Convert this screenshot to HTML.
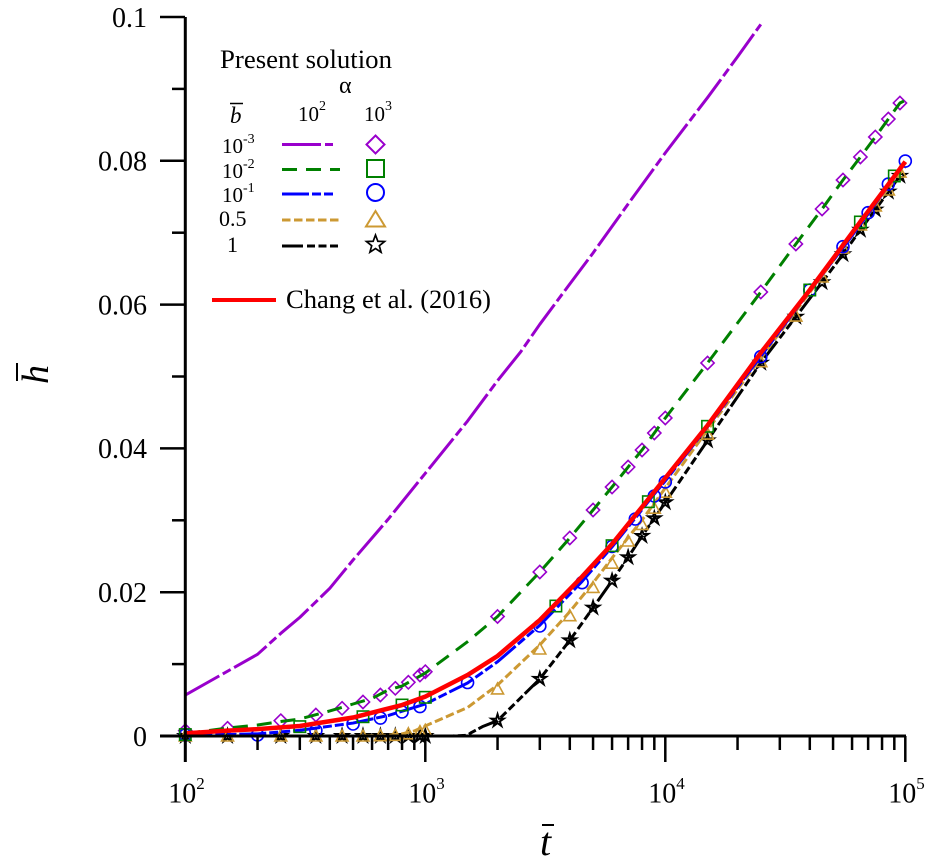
<!DOCTYPE html>
<html lang="en">
<head>
<meta charset="utf-8">
<title>h-bar versus t-bar chart</title>
<style>
html,body{margin:0;padding:0;background:#fff;}
svg{display:block;}
text{font-family:"Liberation Serif",serif;fill:#000;}
</style>
</head>
<body>
<svg id="chart" xmlns="http://www.w3.org/2000/svg" width="925" height="866" viewBox="0 0 925 866">
  <rect x="0" y="0" width="925" height="866" fill="#fff"/>
  <g id="series-layer"></g>
  <g id="axis-layer"></g>

  <text transform="translate(48,384) rotate(-90)" font-size="38" font-style="italic">h</text>
  <line x1="17" y1="363" x2="17" y2="381" stroke="#000" stroke-width="2"/>
  <text x="540" y="855" font-size="40" font-style="italic">t</text>
  <line x1="542" y1="825" x2="554" y2="825" stroke="#000" stroke-width="2"/>

  <g id="legend">
    <text x="220" y="68" font-size="26" textLength="172" lengthAdjust="spacingAndGlyphs">Present solution</text>
    <text x="339" y="93" font-size="24">α</text>
    <text x="230" y="123" font-size="23" font-style="italic">b</text>
    <line x1="230" y1="103.5" x2="243" y2="103.5" stroke="#000" stroke-width="1.5"/>
    <text x="298" y="121" font-size="21">10<tspan dy="-11" font-size="14">2</tspan></text>
    <text x="364" y="121" font-size="21">10<tspan dy="-11" font-size="14">3</tspan></text>

    <text x="222" y="153" font-size="21">10<tspan dy="-10" font-size="14">-3</tspan></text>
    <text x="222" y="178" font-size="21">10<tspan dy="-10" font-size="14">-2</tspan></text>
    <text x="222" y="202" font-size="21">10<tspan dy="-10" font-size="14">-1</tspan></text>
    <text x="219" y="226" font-size="22">0.5</text>
    <text x="227" y="252" font-size="22">1</text>

    <line x1="282" y1="144.5" x2="333" y2="144.5" stroke="#9900cc" stroke-width="3" stroke-dasharray="39 4 9 4"/>
    <line x1="282" y1="169.5" x2="340" y2="169.5" stroke="#008000" stroke-width="3" stroke-dasharray="15 9"/>
    <line x1="282" y1="194" x2="334" y2="194" stroke="#0000ff" stroke-width="3" stroke-dasharray="27 3 9 3 9 3"/>
    <line x1="282" y1="220" x2="340" y2="220" stroke="#cc9933" stroke-width="3" stroke-dasharray="8.5 3.5"/>
    <line x1="282" y1="246" x2="340" y2="246" stroke="#000" stroke-width="3" stroke-dasharray="21 4 8 3.5 8 3.5 8 3"/>

    <polygon points="375.5,135.5 384.5,144.5 375.5,153.5 366.5,144.5" fill="none" stroke="#9900cc" stroke-width="2"/>
    <rect x="367" y="160" width="17" height="17" fill="none" stroke="#008000" stroke-width="2"/>
    <circle cx="375.5" cy="192.5" r="8.5" fill="none" stroke="#0000ff" stroke-width="2"/>
    <polygon points="375.5,211 385,226.5 366,226.5" fill="none" stroke="#cc9933" stroke-width="2"/>
    <polygon id="legend-star" fill="none" stroke="#000" stroke-width="1.7"/>

    <line x1="212" y1="300" x2="276" y2="300" stroke="#ff0000" stroke-width="4"/>
    <text x="286" y="308" font-size="26" textLength="205" lengthAdjust="spacingAndGlyphs">Chang et al. (2016)</text>
  </g>
</svg>
<script>
// ---------- tick labels ----------
var xTickExponents = [2, 3, 4, 5];
var yMajorTicks = [0, 0.02, 0.04, 0.06, 0.08, 0.1];
var yMajorLabels = ['0', '0.02', '0.04', '0.06', '0.08', '0.1'];
var yMinorTicks = [0.01, 0.03, 0.05, 0.07, 0.09];
var xMinorMultipliers = [2, 3, 4, 5, 6, 7, 8, 9];

// ---------- alpha = 100 lines ----------
var lineTimesB0001 = [100, 200, 250, 300, 400, 500, 700, 1000, 1500, 2000, 2500, 3000, 4000, 5000, 7000, 10000, 15000, 20000, 25000];
var lineValuesB0001 = [0.0057, 0.01136, 0.01428, 0.0165, 0.02054, 0.02448, 0.03014, 0.03654, 0.04381, 0.04942, 0.05345, 0.05726, 0.06287, 0.06718, 0.074, 0.0811, 0.0888, 0.09447, 0.09898];

var lineTimesB001 = [100, 150, 200, 250, 300, 400, 500, 600, 700, 800, 1000, 1500, 2000, 3000, 4000, 5000, 6000, 7000, 8000, 9000, 10000, 15000, 25000, 35000, 45000, 55000, 65000, 75000, 85000, 95000, 100000];
var lineValuesB001 = [0.00035, 0.0011, 0.00153, 0.00202, 0.00236, 0.00348, 0.00445, 0.00522, 0.0064, 0.00695, 0.00876, 0.01312, 0.01662, 0.02281, 0.02754, 0.03143, 0.03463, 0.03741, 0.03978, 0.04214, 0.04423, 0.05188, 0.06175, 0.06843, 0.0733, 0.07733, 0.08053, 0.08331, 0.08581, 0.08804, 0.0884];

var lineTimesB01 = [100, 150, 200, 300, 350, 500, 700, 1000, 1500, 2000, 3000, 4500, 6000, 7500, 9000, 10000, 15000, 25000, 40000, 55000, 70000, 85000, 100000];
var lineValuesB01 = [0.0002, 0.0002, 0.0003, 0.0008, 0.0011, 0.0018, 0.00285, 0.00445, 0.00737, 0.01033, 0.0154, 0.0215, 0.0263, 0.0303, 0.03366, 0.03547, 0.043, 0.0528, 0.0619, 0.0679, 0.0726, 0.0766, 0.0797];

var lineTimesB05 = [100, 300, 500, 700, 800, 900, 1000, 1500, 2000, 3000, 4000, 5000, 6000, 8000, 10000, 15000, 25000, 40000, 65000, 100000];
var lineValuesB05 = [0, 0, 0, 0.0001, 0.0003, 0.0007, 0.0014, 0.00396, 0.00709, 0.01266, 0.01729, 0.02128, 0.02476, 0.03004, 0.03449, 0.04256, 0.05257, 0.0617, 0.0712, 0.0792];

var lineTimesB1 = [100, 500, 1000, 1300, 1500, 1560, 1730, 2000, 3000, 4000, 5000, 6000, 7000, 8000, 9000, 10000, 15000, 25000, 35000, 45000, 55000, 65000, 75000, 85000, 95000];
var lineValuesB1 = [0, 0, 0, 0, 0.0001, 0.0005, 0.0013, 0.00213, 0.00793, 0.0133, 0.01784, 0.0216, 0.02485, 0.02782, 0.03027, 0.0325, 0.0411, 0.0519, 0.0583, 0.0631, 0.067, 0.0704, 0.0732, 0.0757, 0.0779];

// ---------- alpha = 1000 symbols ----------
var diamondTimes = [100, 150, 250, 350, 450, 550, 650, 750, 850, 950, 1000, 2000, 3000, 4000, 5000, 6000, 7000, 8000, 9000, 10000, 15000, 25000, 35000, 45000, 55000, 65000, 75000, 85000, 95000];
var diamondValues = [0.00074, 0.00107, 0.00213, 0.00292, 0.00385, 0.00473, 0.0057, 0.00663, 0.00747, 0.00848, 0.00894, 0.01662, 0.02281, 0.02754, 0.03143, 0.03463, 0.03741, 0.03978, 0.04214, 0.04423, 0.05188, 0.06175, 0.06843, 0.0733, 0.07733, 0.08053, 0.08331, 0.08581, 0.08804];

var squareTimes = [100, 300, 550, 800, 1000, 3500, 6000, 8500, 15000, 40000, 65000, 90000];
var squareValues = [0.0002, 0.0013, 0.00268, 0.00431, 0.00538, 0.01808, 0.02647, 0.03259, 0.04307, 0.06203, 0.07149, 0.07789];

var circleTimes = [100, 200, 350, 500, 650, 800, 950, 1500, 3000, 4500, 6000, 7500, 9000, 10000, 25000, 40000, 55000, 70000, 85000, 100000];
var circleValues = [0.00014, 0.00014, 0.00076, 0.00167, 0.0025, 0.00334, 0.0041, 0.00744, 0.0153, 0.02132, 0.02636, 0.03018, 0.03338, 0.03533, 0.05275, 0.06203, 0.06805, 0.07278, 0.07677, 0.07997];

var triangleTimes = [100, 150, 250, 350, 450, 550, 650, 750, 850, 950, 1000, 2000, 3000, 4000, 5000, 6000, 7000, 8000, 9000, 10000, 15000, 25000, 35000, 45000, 55000, 65000, 75000, 85000, 95000];
var triangleValues = [0, 0, 0, 0, 0, 0, 0.00005, 0.0001, 0.0003, 0.0006, 0.0008, 0.00654, 0.0121, 0.01673, 0.02066, 0.02404, 0.02712, 0.02942, 0.03168, 0.03391, 0.042, 0.05206, 0.05841, 0.06384, 0.06787, 0.07107, 0.07372, 0.07594, 0.07844];

var starTimes = [100, 150, 250, 350, 450, 550, 650, 750, 850, 950, 1000, 2000, 3000, 4000, 5000, 6000, 7000, 8000, 9000, 10000, 15000, 25000, 35000, 45000, 55000, 65000, 75000, 85000, 95000];
var starValues = [0, 0, 0, 0, 0, 0, 0, 0, 0, 0, 0, 0.00213, 0.00793, 0.0133, 0.01784, 0.0216, 0.02485, 0.02782, 0.03027, 0.0325, 0.0411, 0.0519, 0.0583, 0.0631, 0.067, 0.0704, 0.0732, 0.0757, 0.0779];

// ---------- Chang et al. (2016) ----------
var changTimes = [100, 150, 200, 300, 500, 800, 1000, 1500, 2000, 3000, 4500, 6000, 8000, 10000, 15000, 25000, 40000, 65000, 100000];
var changValues = [0.00037, 0.00074, 0.00095, 0.00139, 0.00257, 0.00431, 0.00547, 0.00848, 0.01113, 0.01613, 0.02216, 0.0267, 0.03185, 0.03588, 0.0432, 0.0533, 0.06203, 0.07153, 0.07988];

// ---------- axis functions ----------
var NS = 'http://www.w3.org/2000/svg';
function xScale(t) { return 185.3 + (Math.log10(t) - 2) * 240; }
function yScale(h) { return 736 - h * 7190; }

var seriesLayer = document.getElementById('series-layer');
var axisLayer = document.getElementById('axis-layer');

function make(tag, parent) {
  var el = document.createElementNS(NS, tag);
  parent.appendChild(el);
  return el;
}

function drawLine(name, times, values, color, width, dash) {
  var el = make('polyline', seriesLayer);
  
  
  var pts = [];
  for (var i = 0; i < times.length; i++) {
    pts.push(xScale(times[i]).toFixed(2) + ',' + yScale(values[i]).toFixed(2));
  }
  el.setAttribute('points', pts.join(' '));
  el.setAttribute('fill', 'none');
  el.setAttribute('stroke', color);
  el.setAttribute('stroke-width', width);
  el.setAttribute('stroke-linejoin', 'round');
  if (dash) { el.setAttribute('stroke-dasharray', dash); }
}

function starPoints(cx, cy, R, r) {
  var p = [];
  for (var i = 0; i < 10; i++) {
    var rad = i % 2 === 0 ? R : r;
    var a = -Math.PI / 2 + i * Math.PI / 5;
    p.push((cx + rad * Math.cos(a)).toFixed(2) + ',' + (cy + rad * Math.sin(a)).toFixed(2));
  }
  return p.join(' ');
}

function drawSymbol(name, shape, times, values, color) {
  for (var i = 0; i < times.length; i++) {
    var x = xScale(times[i]);
    var y = yScale(values[i]);
    var el;
    if (shape === 'circle') {
      el = make('circle', seriesLayer);
      el.setAttribute('cx', x);
      el.setAttribute('cy', y);
      el.setAttribute('r', 6);
    } else if (shape === 'square') {
      el = make('rect', seriesLayer);
      el.setAttribute('x', x - 5.7);
      el.setAttribute('y', y - 5.7);
      el.setAttribute('width', 11.4);
      el.setAttribute('height', 11.4);
    } else {
      el = make('polygon', seriesLayer);
      var pts;
      if (shape === 'diamond') {
        pts = [x + ',' + (y - 6.6), (x + 6.6) + ',' + y, x + ',' + (y + 6.6), (x - 6.6) + ',' + y].join(' ');
      } else if (shape === 'triangle') {
        pts = [x + ',' + (y - 6), (x + 6) + ',' + (y + 5), (x - 6) + ',' + (y + 5)].join(' ');
      } else {
        pts = starPoints(x, y, 6.5, 2.4);
      }
      el.setAttribute('points', pts);
    }
    
    
    el.setAttribute('fill', 'none');
    el.setAttribute('stroke', color);
    el.setAttribute('stroke-width', shape === 'star' ? 2 : 1.6);
  }
}

function drawAxisLine(name, x1, y1, x2, y2, width) {
  var el = make('line', axisLayer);
  
  
  el.setAttribute('x1', x1);
  el.setAttribute('y1', y1);
  el.setAttribute('x2', x2);
  el.setAttribute('y2', y2);
  el.setAttribute('stroke', '#000');
  el.setAttribute('stroke-width', width);
}

// ---------- marks, back to front ----------
drawSymbol('marker-diamond', 'diamond', diamondTimes, diamondValues, '#9900cc');
drawLine('line-b-0.001', lineTimesB0001, lineValuesB0001, '#9900cc', 3, '39 4 9 4');
drawLine('line-b-0.01', lineTimesB001, lineValuesB001, '#008000', 3, '15 9');
drawSymbol('marker-star', 'star', starTimes, starValues, '#000');
drawLine('line-b-1', lineTimesB1, lineValuesB1, '#000', 3, '21 4 8 3.5 8 3.5 8 3');
drawSymbol('marker-triangle', 'triangle', triangleTimes, triangleValues, '#cc9933');
drawLine('line-b-0.5', lineTimesB05, lineValuesB05, '#cc9933', 3, '8.5 3.5');
drawSymbol('marker-circle', 'circle', circleTimes, circleValues, '#0000ff');
drawLine('line-b-0.1', lineTimesB01, lineValuesB01, '#0000ff', 3, '27 3 9 3 9 3');
drawSymbol('marker-square', 'square', squareTimes, squareValues, '#008000');
drawLine('line-chang-2016', changTimes, changValues, '#ff0000', 4.5, null);

// ---------- axes ----------
drawAxisLine('y-axis-line', 185.3, 17, 185.3, 762, 3);
drawAxisLine('x-axis-line', 160, 736, 906, 736, 3);

yMajorTicks.forEach(function (v, i) {
  drawAxisLine('y-major-tick', 160, yScale(v), 185, yScale(v), 2.5);
  var label = make('text', axisLayer);
  
  
  label.setAttribute('x', 147);
  label.setAttribute('y', yScale(v) + 9.8);
  label.setAttribute('font-size', 28);
  label.setAttribute('text-anchor', 'end');
  label.textContent = yMajorLabels[i];
});
yMinorTicks.forEach(function (v) {
  drawAxisLine('y-minor-tick', 172, yScale(v), 185, yScale(v), 2.5);
});

xTickExponents.forEach(function (e, i) {
  var t = Math.pow(10, e);
  var x = xScale(t);
  drawAxisLine('x-major-tick', x, 736, x, 762, 2.5);
  var label = make('text', axisLayer);
  
  
  label.setAttribute('x', x - 17);
  label.setAttribute('y', 802.5);
  label.setAttribute('font-size', 28);
  label.textContent = '10';
  var sup = make('text', axisLayer);
  
  
  sup.setAttribute('x', x + 11);
  sup.setAttribute('y', 789);
  sup.setAttribute('font-size', 17);
  sup.textContent = String(e);
  if (i < xTickExponents.length - 1) {
    xMinorMultipliers.forEach(function (m) {
      drawAxisLine('x-minor-tick', xScale(t * m), 736, xScale(t * m), 750, 2.5);
    });
  }
});

document.getElementById('legend-star').setAttribute('points', starPoints(375.5, 244.5, 9.5, 4));
</script>
</body>
</html>
